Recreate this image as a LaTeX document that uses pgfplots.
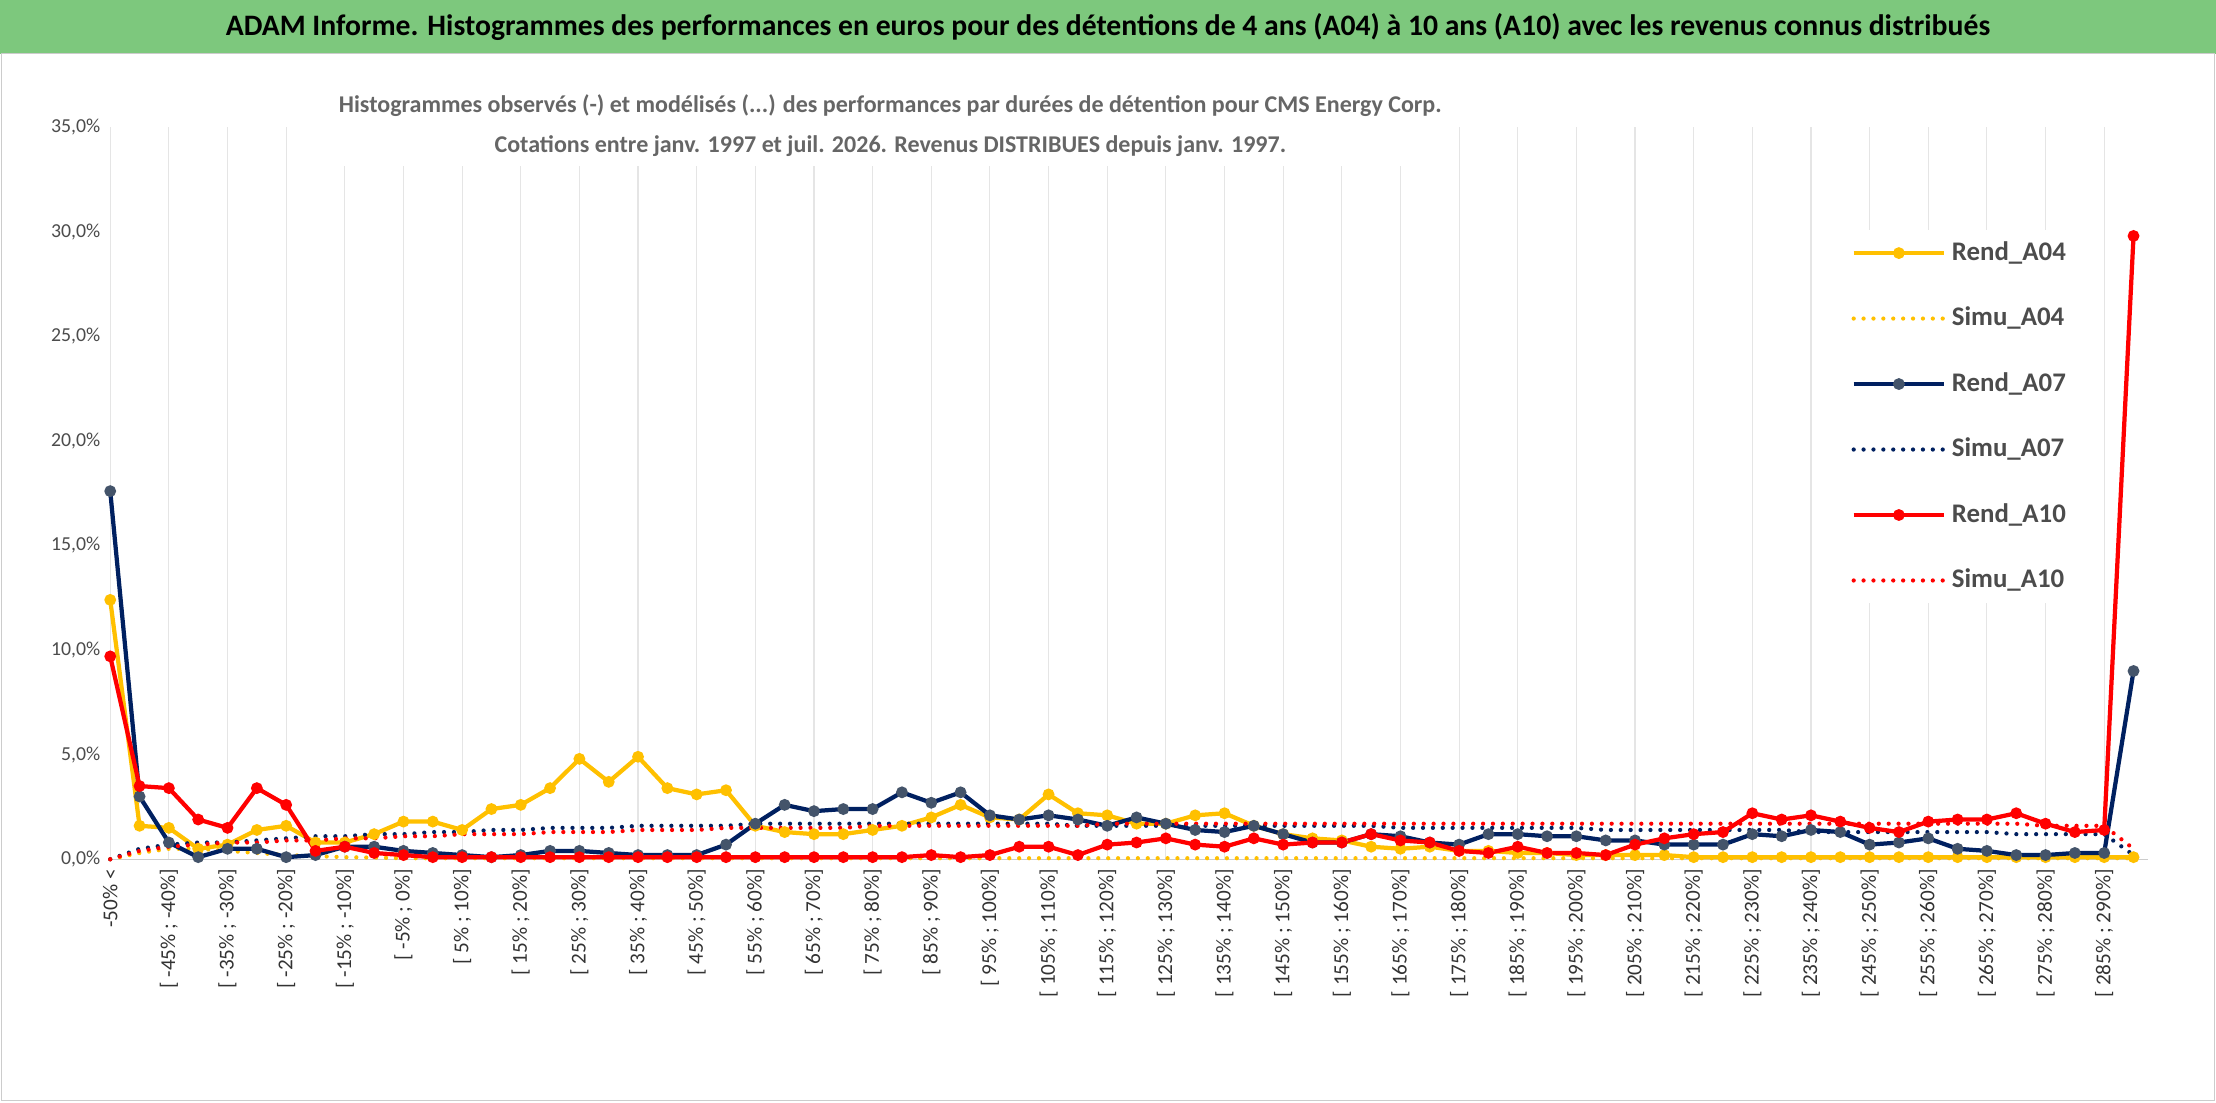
\documentclass[border=0pt]{standalone}
\usepackage{pgfplots}
\pgfplotsset{compat=1.18}
\usepackage{pgfplotstable}
\usepackage{fontspec}
\setmainfont{Carlito}
\definecolor{cy}{HTML}{FFC000}
\definecolor{cn}{HTML}{002060}
\definecolor{cnm}{HTML}{44546A}
\definecolor{cr}{HTML}{FF0000}
\definecolor{band}{HTML}{7DC87D}
\pgfplotstableread{
x a04 s04 a07 s07 a10 s10
0 12.4 0 17.6 0 9.7 0
1 1.6 0.3 3.0 0.5 3.5 0.4
2 1.5 0.5 0.8 0.7 3.4 0.6
3 0.5 0.5 0.1 0.8 1.9 0.7
4 0.7 0.4 0.5 0.8 1.5 0.8
5 1.4 0.3 0.5 0.9 3.4 0.8
6 1.6 0.2 0.1 1.0 2.6 0.9
7 0.8 0.15 0.2 1.1 0.4 0.9
8 0.8 0.1 0.6 1.1 0.6 1.0
9 1.2 0.08 0.6 1.2 0.3 1.0
10 1.8 0.05 0.4 1.2 0.2 1.1
11 1.8 0.05 0.3 1.3 0.1 1.1
12 1.4 0.05 0.2 1.3 0.1 1.2
13 2.4 0.05 0.1 1.4 0.1 1.2
14 2.6 0.05 0.2 1.4 0.1 1.2
15 3.4 0.05 0.4 1.5 0.1 1.3
16 4.8 0.05 0.4 1.5 0.1 1.3
17 3.7 0.05 0.3 1.5 0.1 1.3
18 4.9 0.05 0.2 1.6 0.1 1.4
19 3.4 0.05 0.2 1.6 0.1 1.4
20 3.1 0.05 0.2 1.6 0.1 1.4
21 3.3 0.05 0.7 1.6 0.1 1.5
22 1.6 0.05 1.7 1.7 0.1 1.5
23 1.3 0.05 2.6 1.7 0.1 1.5
24 1.2 0.05 2.3 1.7 0.1 1.5
25 1.2 0.05 2.4 1.7 0.1 1.5
26 1.4 0.05 2.4 1.7 0.1 1.6
27 1.6 0.05 3.2 1.7 0.1 1.6
28 2.0 0.05 2.7 1.7 0.2 1.6
29 2.6 0.05 3.2 1.7 0.1 1.6
30 2.0 0.05 2.1 1.7 0.2 1.6
31 1.9 0.05 1.9 1.7 0.6 1.6
32 3.1 0.05 2.1 1.7 0.6 1.6
33 2.2 0.05 1.9 1.6 0.2 1.6
34 2.1 0.05 1.6 1.6 0.7 1.7
35 1.7 0.05 2.0 1.6 0.8 1.7
36 1.7 0.05 1.7 1.6 1.0 1.7
37 2.1 0.05 1.4 1.6 0.7 1.7
38 2.2 0.05 1.3 1.6 0.6 1.7
39 1.6 0.05 1.6 1.6 1.0 1.7
40 1.2 0.05 1.2 1.6 0.7 1.7
41 1.0 0.05 0.8 1.6 0.8 1.7
42 0.9 0.05 0.8 1.6 0.8 1.7
43 0.6 0.05 1.2 1.6 1.2 1.7
44 0.5 0.05 1.1 1.5 0.9 1.7
45 0.6 0.05 0.8 1.5 0.8 1.7
46 0.4 0.05 0.7 1.5 0.4 1.7
47 0.4 0.05 1.2 1.5 0.3 1.7
48 0.3 0.05 1.2 1.5 0.6 1.7
49 0.3 0.05 1.1 1.5 0.3 1.7
50 0.2 0.05 1.1 1.5 0.3 1.7
51 0.2 0.05 0.9 1.4 0.2 1.7
52 0.2 0.05 0.9 1.4 0.7 1.7
53 0.2 0.05 0.7 1.4 1.0 1.7
54 0.1 0.05 0.7 1.4 1.2 1.7
55 0.1 0.05 0.7 1.4 1.3 1.7
56 0.1 0.05 1.2 1.4 2.2 1.7
57 0.1 0.05 1.1 1.4 1.9 1.7
58 0.1 0.05 1.4 1.3 2.1 1.7
59 0.1 0.05 1.3 1.3 1.8 1.7
60 0.1 0.05 0.7 1.3 1.5 1.7
61 0.1 0.05 0.8 1.3 1.3 1.7
62 0.1 0.05 1.0 1.3 1.8 1.7
63 0.1 0.05 0.5 1.3 1.9 1.7
64 0.1 0.05 0.4 1.3 1.9 1.7
65 0.1 0.05 0.2 1.2 2.2 1.7
66 0.1 0.05 0.2 1.2 1.7 1.6
67 0.1 0.05 0.3 1.2 1.3 1.6
68 0.1 0.05 0.3 1.2 1.4 1.6
69 0.1 0.05 9.0 0.2 29.8 0.5
}\data
\begin{document}
\begin{tikzpicture}
\path[use as bounding box] (0,0) rectangle (784pt,390pt);
\fill[white] (0,0) rectangle (784pt,390pt);
\fill[band] (0,371pt) rectangle (784pt,390pt);
\draw[gray!40] (0.5pt,0.5pt) rectangle (783.5pt,371pt);
\node[font=\bfseries\fontsize{10.5}{12}\selectfont] at (392pt,380.5pt) {ADAM Informe. Histogrammes des performances en euros pour des détentions de 4 ans (A04) à 10 ans (A10) avec les revenus connus distribués};
\begin{axis}[at={(39pt,86pt)},anchor=origin,scale only axis,width=721pt,height=259pt,
 xmin=0,xmax=69.5,ymin=0,ymax=35,
 axis line style={draw=none},
 tick style={draw=none},
 xtick={0,2,...,68},
 xticklabels={{-50\% <},{[ -45\% ; -40\%]},{[ -35\% ; -30\%]},{[ -25\% ; -20\%]},{[ -15\% ; -10\%]},{[ -5\% ; 0\%]},{[ 5\% ; 10\%]},{[ 15\% ; 20\%]},{[ 25\% ; 30\%]},{[ 35\% ; 40\%]},{[ 45\% ; 50\%]},{[ 55\% ; 60\%]},{[ 65\% ; 70\%]},{[ 75\% ; 80\%]},{[ 85\% ; 90\%]},{[ 95\% ; 100\%]},{[ 105\% ; 110\%]},{[ 115\% ; 120\%]},{[ 125\% ; 130\%]},{[ 135\% ; 140\%]},{[ 145\% ; 150\%]},{[ 155\% ; 160\%]},{[ 165\% ; 170\%]},{[ 175\% ; 180\%]},{[ 185\% ; 190\%]},{[ 195\% ; 200\%]},{[ 205\% ; 210\%]},{[ 215\% ; 220\%]},{[ 225\% ; 230\%]},{[ 235\% ; 240\%]},{[ 245\% ; 250\%]},{[ 255\% ; 260\%]},{[ 265\% ; 270\%]},{[ 275\% ; 280\%]},{[ 285\% ; 290\%]}},
 xticklabel style={rotate=90,anchor=east,font=\fontsize{7.5}{8}\selectfont,text=black!80},
 xmajorgrids, grid style={gray!20},
 ytick={0,5,...,35},
 yticklabels={{0,0\%},{5,0\%},{10,0\%},{15,0\%},{20,0\%},{25,0\%},{30,0\%},{35,0\%}},
 yticklabel style={font=\fontsize{7}{8}\selectfont,text=black!70},
 legend style={at={(0.85,0.86)},anchor=north west,draw=none,fill=white,font=\bfseries\fontsize{9.5}{11}\selectfont,text=black!70,row sep=11pt},
 legend cell align=left,
 legend image code/.code={\draw[#1,mark repeat=2,mark phase=2] plot coordinates {(0pt,0pt) (16pt,0pt) (32pt,0pt)};},
 clip=false]
\draw[gray!40] (axis cs:0,0) -- (axis cs:69.5,0);
\addplot[cy,line width=1.5pt,mark=*,mark size=1.3pt,mark options={fill=cy,draw=cy}] table[x=x,y=a04]{\data};
\addlegendentry{Rend\_A04}
\addplot[cy,line width=1.5pt,dash pattern=on 0pt off 3.5pt,line cap=round] table[x=x,y=s04]{\data};
\addlegendentry{Simu\_A04}
\addplot[cn,line width=1.5pt,mark=*,mark size=1.3pt,mark options={fill=cnm,draw=cnm}] table[x=x,y=a07]{\data};
\addlegendentry{Rend\_A07}
\addplot[cn,line width=1.5pt,dash pattern=on 0pt off 3.5pt,line cap=round] table[x=x,y=s07]{\data};
\addlegendentry{Simu\_A07}
\addplot[cr,line width=1.5pt,mark=*,mark size=1.3pt,mark options={fill=cr,draw=cr}] table[x=x,y=a10]{\data};
\addlegendentry{Rend\_A10}
\addplot[cr,line width=1.5pt,dash pattern=on 0pt off 3.5pt,line cap=round] table[x=x,y=s10]{\data};
\addlegendentry{Simu\_A10}
\end{axis}
\node[fill=white,align=center,font=\bfseries\fontsize{8.5}{14}\selectfont,text=black!60] at (315pt,345.5pt) {Histogrammes observés (-) et modélisés (...) des performances par durées de détention pour CMS Energy Corp.\\Cotations entre janv. 1997 et juil. 2026. Revenus DISTRIBUES depuis janv. 1997.};
\end{tikzpicture}
\end{document}
